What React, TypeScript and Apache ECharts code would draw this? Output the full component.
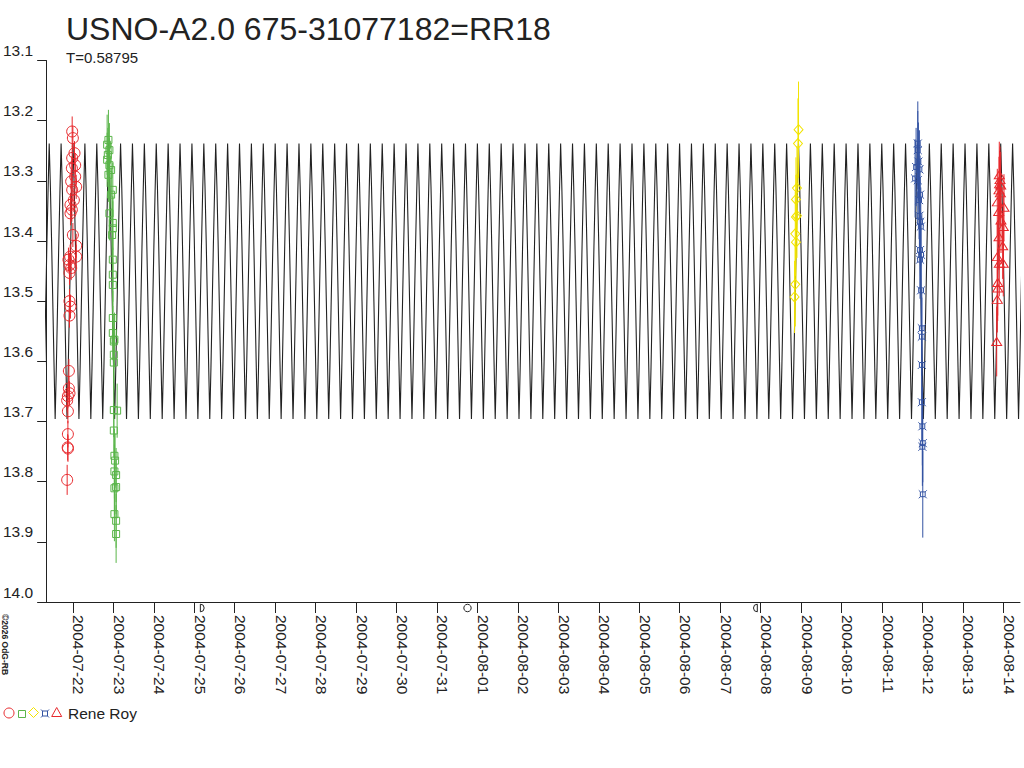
import React, { useEffect, useRef } from "react";
import * as echarts from "echarts";

// ---------- text ----------
const TITLE = "USNO-A2.0 675-31077182=RR18";
const SUBTITLE = "T=0.58795";
const OBSERVER = "Rene Roy";
const COPYRIGHT = "©2026 OdG-RB";

// ---------- axes (x in days since 2004-07-22 00:00 UT) ----------
const X_MIN = -0.66;
const X_MAX = 23.41;
const X_TICK_LABELS = [
  "2004-07-22", "2004-07-23", "2004-07-24", "2004-07-25", "2004-07-26", "2004-07-27",
  "2004-07-28", "2004-07-29", "2004-07-30", "2004-07-31", "2004-08-01", "2004-08-02",
  "2004-08-03", "2004-08-04", "2004-08-05", "2004-08-06", "2004-08-07", "2004-08-08",
  "2004-08-09", "2004-08-10", "2004-08-11", "2004-08-12", "2004-08-13", "2004-08-14",
];
const Y_MIN = 13.1;
const Y_MAX = 14.0;
const Y_STEP = 0.1;

// ---------- light-curve model: one cycle template (phase from maximum, magnitude) ----------
const PERIOD_T = 0.58795;
const MODEL_CYCLE = PERIOD_T / 2; // cycle length seen on the plot
const MODEL_EPOCH_MAX = 0.003; // a maximum, days since 2004-07-22
const MODEL_TEMPLATE: [number, number][] = [
  [0.0, 13.238], [0.1, 13.31], [0.2, 13.4], [0.3, 13.5], [0.4, 13.6],
  [0.5, 13.696], [0.6, 13.61], [0.7, 13.51], [0.8, 13.41], [0.9, 13.32],
];

// ---------- observations: [day, mag, error] ----------
const RED_CIRCLES: [number, number, number][] = [
  [-0.141, 13.797, 0.025], [-0.121, 13.745, 0.022], [-0.128, 13.743, 0.022], [-0.123, 13.721, 0.022],
  [-0.123, 13.683, 0.02], [-0.141, 13.665, 0.02], [-0.123, 13.658, 0.02], [-0.084, 13.653, 0.02],
  [-0.099, 13.645, 0.02], [-0.099, 13.616, 0.02], [-0.084, 13.524, 0.02], [-0.059, 13.509, 0.02],
  [-0.084, 13.5, 0.02], [-0.084, 13.453, 0.02], [-0.042, 13.445, 0.02], [-0.084, 13.44, 0.02],
  [-0.109, 13.431, 0.02], [-0.067, 13.426, 0.02], [0.082, 13.426, 0.02], [0.082, 13.408, 0.02],
  [0.0, 13.39, 0.02], [-0.059, 13.354, 0.02], [-0.025, 13.348, 0.02], [-0.059, 13.34, 0.02],
  [0.025, 13.332, 0.02], [-0.017, 13.315, 0.02], [0.082, 13.31, 0.02], [-0.042, 13.301, 0.02],
  [0.057, 13.293, 0.02], [-0.025, 13.279, 0.02], [0.057, 13.274, 0.02], [-0.017, 13.262, 0.02],
  [0.04, 13.254, 0.02], [0.0, 13.229, 0.02], [-0.017, 13.218, 0.025],
];
const GREEN_SQUARES: [number, number, number][] = [
  [0.879, 13.232, 0.05], [0.847, 13.24, 0.05], [0.903, 13.249, 0.045], [0.864, 13.257, 0.045],
  [0.847, 13.265, 0.045], [0.903, 13.274, 0.045], [0.945, 13.282, 0.045], [0.879, 13.29, 0.045],
  [0.987, 13.315, 0.045], [0.945, 13.323, 0.045], [0.903, 13.354, 0.045], [0.987, 13.37, 0.045],
  [0.987, 13.379, 0.045], [0.97, 13.39, 0.045], [0.987, 13.431, 0.045], [0.987, 13.456, 0.045],
  [0.987, 13.473, 0.045], [0.987, 13.528, 0.045], [0.987, 13.553, 0.045], [1.027, 13.564, 0.045],
  [1.012, 13.567, 0.045], [1.012, 13.589, 0.045], [1.012, 13.602, 0.045], [1.012, 13.681, 0.045],
  [1.094, 13.682, 0.045], [1.012, 13.715, 0.045], [1.027, 13.757, 0.045], [1.044, 13.765, 0.045],
  [1.027, 13.783, 0.045], [1.069, 13.789, 0.045], [1.027, 13.811, 0.045], [1.069, 13.809, 0.045],
  [1.027, 13.854, 0.045], [1.069, 13.865, 0.045], [1.069, 13.887, 0.048],
];
const YELLOW_DIAMONDS: [number, number, number][] = [
  [17.936, 13.215, 0.08], [17.922, 13.238, 0.075], [17.897, 13.312, 0.07], [17.872, 13.331, 0.07],
  [17.897, 13.358, 0.07], [17.872, 13.36, 0.07], [17.855, 13.388, 0.07], [17.872, 13.402, 0.07],
  [17.855, 13.472, 0.07], [17.838, 13.493, 0.06],
];
const BLUE_CROSSES: [number, number, number][] = [
  [20.884, 13.238, 0.07], [20.884, 13.249, 0.065], [20.899, 13.268, 0.065], [20.842, 13.277, 0.065],
  [20.924, 13.281, 0.065], [20.817, 13.296, 0.065], [20.884, 13.299, 0.065], [20.94, 13.323, 0.065],
  [20.916, 13.332, 0.065], [20.924, 13.358, 0.065], [20.94, 13.368, 0.065], [20.958, 13.376, 0.065],
  [20.94, 13.415, 0.065], [20.965, 13.423, 0.065], [20.94, 13.431, 0.065], [20.965, 13.482, 0.065],
  [20.983, 13.545, 0.065], [20.983, 13.559, 0.065], [20.983, 13.606, 0.065], [20.983, 13.668, 0.065],
  [20.997, 13.708, 0.065], [21.007, 13.736, 0.065], [20.997, 13.742, 0.065], [21.007, 13.821, 0.072],
];
const RED_TRIANGLES: [number, number, number][] = [
  [22.898, 13.29, 0.055], [22.916, 13.298, 0.055], [22.905, 13.305, 0.055], [22.933, 13.307, 0.055],
  [22.891, 13.315, 0.055], [22.925, 13.32, 0.055], [22.849, 13.335, 0.055], [23.014, 13.344, 0.055],
  [22.883, 13.351, 0.055], [22.94, 13.365, 0.055], [22.997, 13.376, 0.055], [22.891, 13.393, 0.055],
  [22.982, 13.408, 0.055], [22.849, 13.426, 0.055], [22.898, 13.437, 0.055], [22.997, 13.437, 0.055],
  [22.859, 13.469, 0.055], [22.859, 13.478, 0.055], [22.849, 13.497, 0.055], [22.834, 13.567, 0.058],
];

// ---------- moon phases: [day, kind] 0 first quarter, 1 full, 2 last quarter ----------
const MOON_PHASES: [number, number][] = [[3.151, 0], [9.754, 1], [16.917, 2]];

// ---------- styles ----------
const FONT = '"Liberation Sans", Arial, sans-serif';
const INK = "#222222";
const C_RED = "#e8282c";
const C_GREEN = "#5ab54a";
const C_YELLOW = "#f2e400";
const C_BLUE = "#3353a3";
const BLUE_SYMBOL =
  "path://M1.6,1.6H6.4V6.4H1.6Z M0,0L1.6,1.6 M8,0L6.4,1.6 M0,8L1.6,6.4 M8,8L6.4,6.4";

function buildModel(): [number, number][] {
  const out: [number, number][] = [];
  const k0 = Math.floor((X_MIN - MODEL_EPOCH_MAX) / MODEL_CYCLE) - 1;
  const k1 = Math.ceil((X_MAX - MODEL_EPOCH_MAX) / MODEL_CYCLE) + 1;
  for (let k = k0; k <= k1; k++) {
    for (const [ph, m] of MODEL_TEMPLATE) {
      out.push([MODEL_EPOCH_MAX + (k + ph) * MODEL_CYCLE, m]);
    }
  }
  return out;
}

function errorBars(data: [number, number, number][], color: string) {
  return {
    type: "custom",
    data,
    encode: { x: 0, y: 1 },
    silent: true,
    z: 3,
    renderItem: (_p: any, api: any) => {
      const x = api.value(0);
      const y = api.value(1);
      const e = api.value(2);
      const a = api.coord([x, y - e]);
      const b = api.coord([x, y + e]);
      return {
        type: "line",
        shape: { x1: a[0], y1: a[1], x2: b[0], y2: b[1] },
        style: { stroke: color, lineWidth: 1 },
      };
    },
  };
}

function markers(data: [number, number, number][], color: string, symbol: string, size: any) {
  return {
    type: "scatter",
    data: data.map((d) => [d[0], d[1]]),
    symbol,
    symbolSize: size,
    silent: true,
    z: 4,
    itemStyle: { color: "rgba(0,0,0,0)", borderColor: color, borderWidth: 1, opacity: 1 },
  };
}

export default function App() {
  const ref = useRef<HTMLDivElement>(null);
  useEffect(() => {
    const chart = echarts.init(ref.current!, null, { renderer: "svg" });
    const tickValues = X_TICK_LABELS.map((_, i) => i);
    const option: any = {
      animation: false,
      backgroundColor: "#ffffff",
      textStyle: { fontFamily: FONT },
      grid: { left: 45, right: 4, top: 60.5, bottom: 166, containLabel: false },
      xAxis: {
        type: "value",
        min: X_MIN,
        max: X_MAX,
        axisLine: { onZero: false, lineStyle: { color: INK, width: 1 } },
        axisTick: { show: true, customValues: tickValues, length: 11, lineStyle: { color: INK, width: 1 } },
        axisLabel: {
          customValues: tickValues,
          rotate: -90,
          margin: 13,
          align: "left",
          verticalAlign: "bottom",
          lineHeight: 12,
          fontSize: 15.5,
          color: INK,
          fontFamily: FONT,
          formatter: (v: number) => X_TICK_LABELS[Math.round(v)] ?? "",
        },
        splitLine: { show: false },
      },
      yAxis: {
        type: "value",
        inverse: true,
        min: Y_MIN,
        max: Y_MAX,
        interval: Y_STEP,
        axisLine: { show: true, onZero: false, lineStyle: { color: INK, width: 1 } },
        axisTick: { show: true, length: 9, lineStyle: { color: INK, width: 1 } },
        axisLabel: {
          margin: 13,
          align: "right",
          verticalAlign: "bottom",
          padding: [0, 0, 2, 0],
          fontSize: 15.5,
          color: INK,
          fontFamily: FONT,
          formatter: (v: number) => v.toFixed(1),
        },
        splitLine: { show: false },
      },
      series: [
        {
          type: "line",
          data: buildModel(),
          showSymbol: false,
          silent: true,
          z: 2,
          lineStyle: { color: INK, width: 1.1 },
        },
        errorBars(RED_CIRCLES, C_RED),
        errorBars(GREEN_SQUARES, C_GREEN),
        errorBars(YELLOW_DIAMONDS, C_YELLOW),
        errorBars(BLUE_CROSSES, C_BLUE),
        errorBars(RED_TRIANGLES, C_RED),
        markers(RED_CIRCLES, C_RED, "circle", 11),
        markers(GREEN_SQUARES, C_GREEN, "rect", 7),
        markers(YELLOW_DIAMONDS, C_YELLOW, "diamond", [9, 10]),
        markers(BLUE_CROSSES, C_BLUE, BLUE_SYMBOL, 8),
        markers(RED_TRIANGLES, C_RED, "triangle", [10, 8]),
        {
          type: "custom",
          data: MOON_PHASES,
          encode: { x: 0 },
          silent: true,
          clip: false,
          z: 5,
          renderItem: (_p: any, api: any) => {
            const p = api.coord([api.value(0), Y_MAX]);
            const kind = api.value(1);
            const cy = p[1] + 6;
            const style = { stroke: INK, fill: "none", lineWidth: 1 };
            if (kind === 1) return { type: "circle", shape: { cx: p[0], cy, r: 3.7 }, style };
            const start = kind === 0 ? -Math.PI / 2 : Math.PI / 2;
            return {
              type: "sector",
              shape: { cx: p[0], cy, r: 3.8, r0: 0, startAngle: start, endAngle: start + Math.PI },
              style,
            };
          },
        },
      ],
      graphic: [
        { type: "text", x: 66, y: 13, style: { text: TITLE, fontSize: 32, fill: INK, fontFamily: FONT } },
        { type: "text", x: 66, y: 50, style: { text: SUBTITLE, fontSize: 15, fill: INK, fontFamily: FONT } },
        {
          type: "text",
          x: 9,
          y: 614,
          rotation: -Math.PI / 2,
          style: { text: COPYRIGHT, fontSize: 8.5, fontWeight: "bold", fill: INK, fontFamily: FONT },
        },
        { type: "circle", shape: { cx: 9, cy: 713, r: 5 }, style: { stroke: C_RED, fill: "none", lineWidth: 1 } },
        { type: "rect", shape: { x: 18.5, y: 710.5, width: 7, height: 7 }, style: { stroke: C_GREEN, fill: "none", lineWidth: 1 } },
        {
          type: "polygon",
          shape: { points: [[33.5, 707.5], [38.5, 712.5], [33.5, 717.5], [28.5, 712.5]] },
          style: { stroke: C_YELLOW, fill: "none", lineWidth: 1 },
        },
        {
          type: "group",
          children: [
            { type: "rect", shape: { x: 42.5, y: 711, width: 5, height: 5 }, style: { stroke: C_BLUE, fill: "none" } },
            { type: "line", shape: { x1: 41, y1: 709.5, x2: 42.5, y2: 711 }, style: { stroke: C_BLUE } },
            { type: "line", shape: { x1: 49, y1: 709.5, x2: 47.5, y2: 711 }, style: { stroke: C_BLUE } },
            { type: "line", shape: { x1: 41, y1: 717.5, x2: 42.5, y2: 716 }, style: { stroke: C_BLUE } },
            { type: "line", shape: { x1: 49, y1: 717.5, x2: 47.5, y2: 716 }, style: { stroke: C_BLUE } },
          ],
        },
        {
          type: "polygon",
          shape: { points: [[56.7, 707.5], [61.7, 716.5], [51.7, 716.5]] },
          style: { stroke: C_RED, fill: "none", lineWidth: 1 },
        },
        {
          type: "text",
          x: 68,
          y: 713,
          style: { text: OBSERVER, fontSize: 15.5, fill: INK, fontFamily: FONT, verticalAlign: "middle" },
        },
      ],
    };
    chart.setOption(option);
    return () => chart.dispose();
  }, []);
  return (
    <div
      ref={ref}
      style={{ position: "absolute", left: 0, top: 0, width: 1024, height: 768, background: "#fff" }}
    />
  );
}
